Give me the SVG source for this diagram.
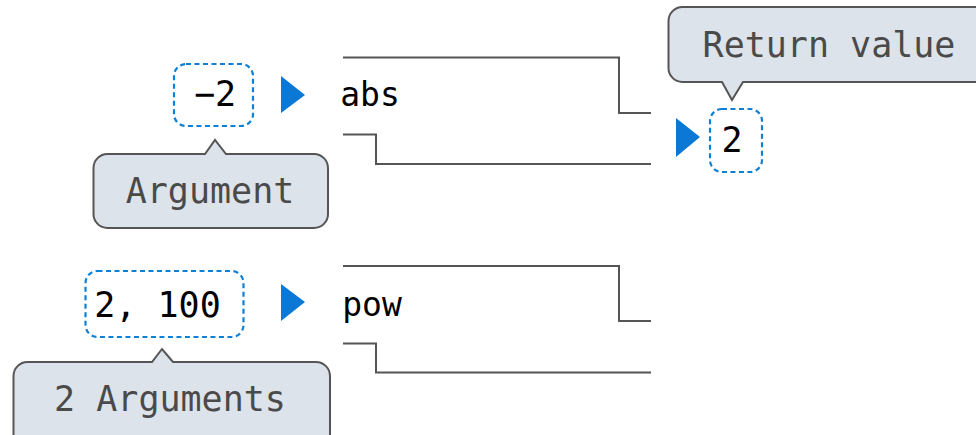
<svg xmlns="http://www.w3.org/2000/svg" width="976" height="435" viewBox="0 0 976 435">
<style>
.mono{font-family:"DejaVu Sans Mono","Liberation Mono",monospace;}
.val{font-size:35px;fill:#000;text-anchor:middle;}
.fn{font-size:33px;fill:#000;text-anchor:middle;}
.lbl{font-size:35px;fill:#4a4a4a;text-anchor:middle;}
.dash{fill:none;stroke:#0c7fd6;stroke-width:2.2;stroke-dasharray:5 3.5;}
.tri{fill:#0b78d6;}
.call{fill:#dde3ea;stroke:#555;stroke-width:2;}
.wire{fill:none;stroke:#555;stroke-width:2;}
</style>
<rect width="976" height="435" fill="#fff"/>
<g id="connectors">
  <path class="wire" d="M343,57.5 H619 V113 H651"/>
  <path class="wire" d="M343,134.5 H376 V164 H651"/>
  <path class="wire" d="M343,266 H619 V321 H651"/>
  <path class="wire" d="M343,343.5 H376 V372.5 H651"/>
  <polygon class="tri" points="281,76 305,95 281,113"/>
  <polygon class="tri" points="676,118 700,137 676,157"/>
  <polygon class="tri" points="281,284 305,302 281,321"/>
</g>
<g id="abs-arg">
  <rect class="dash" x="174" y="64" width="79" height="62" rx="12"/>
  <text class="mono val" x="215" y="106">−2</text>
</g>
<g id="abs">
  <text class="mono fn" x="370" y="106">abs</text>
</g>
<g id="abs-return">
  <rect class="dash" x="710" y="109" width="52" height="63" rx="12"/>
  <text class="mono val" x="732" y="152">2</text>
</g>
<g id="return-callout">
  <path class="call" d="M682.5,7 H990 V82 H743 L732,100 L722,82 H682.5 A14,14 0 0 1 668.5,68 V21 A14,14 0 0 1 682.5,7 Z"/>
  <text class="mono lbl" x="829" y="57">Return value</text>
</g>
<g id="argument-callout">
  <path class="call" d="M107.5,154 H205 L215,140 L226,154 H314 A14,14 0 0 1 328,168 V214 A14,14 0 0 1 314,228 H107.5 A14,14 0 0 1 93.5,214 V168 A14,14 0 0 1 107.5,154 Z"/>
  <text class="mono lbl" x="210" y="203">Argument</text>
</g>
<g id="pow-args">
  <rect class="dash" x="85.5" y="271" width="158" height="66" rx="12"/>
  <text class="mono val" x="157.5" y="317">2, 100</text>
</g>
<g id="pow">
  <text class="mono fn" x="372" y="316">pow</text>
</g>
<g id="arguments-callout">
  <path class="call" d="M27.5,362 H152 L162,349 L173,362 H316 A14,14 0 0 1 330,376 V450 H13.5 V376 A14,14 0 0 1 27.5,362 Z"/>
  <text class="mono lbl" x="170" y="411">2 Arguments</text>
</g>
</svg>
